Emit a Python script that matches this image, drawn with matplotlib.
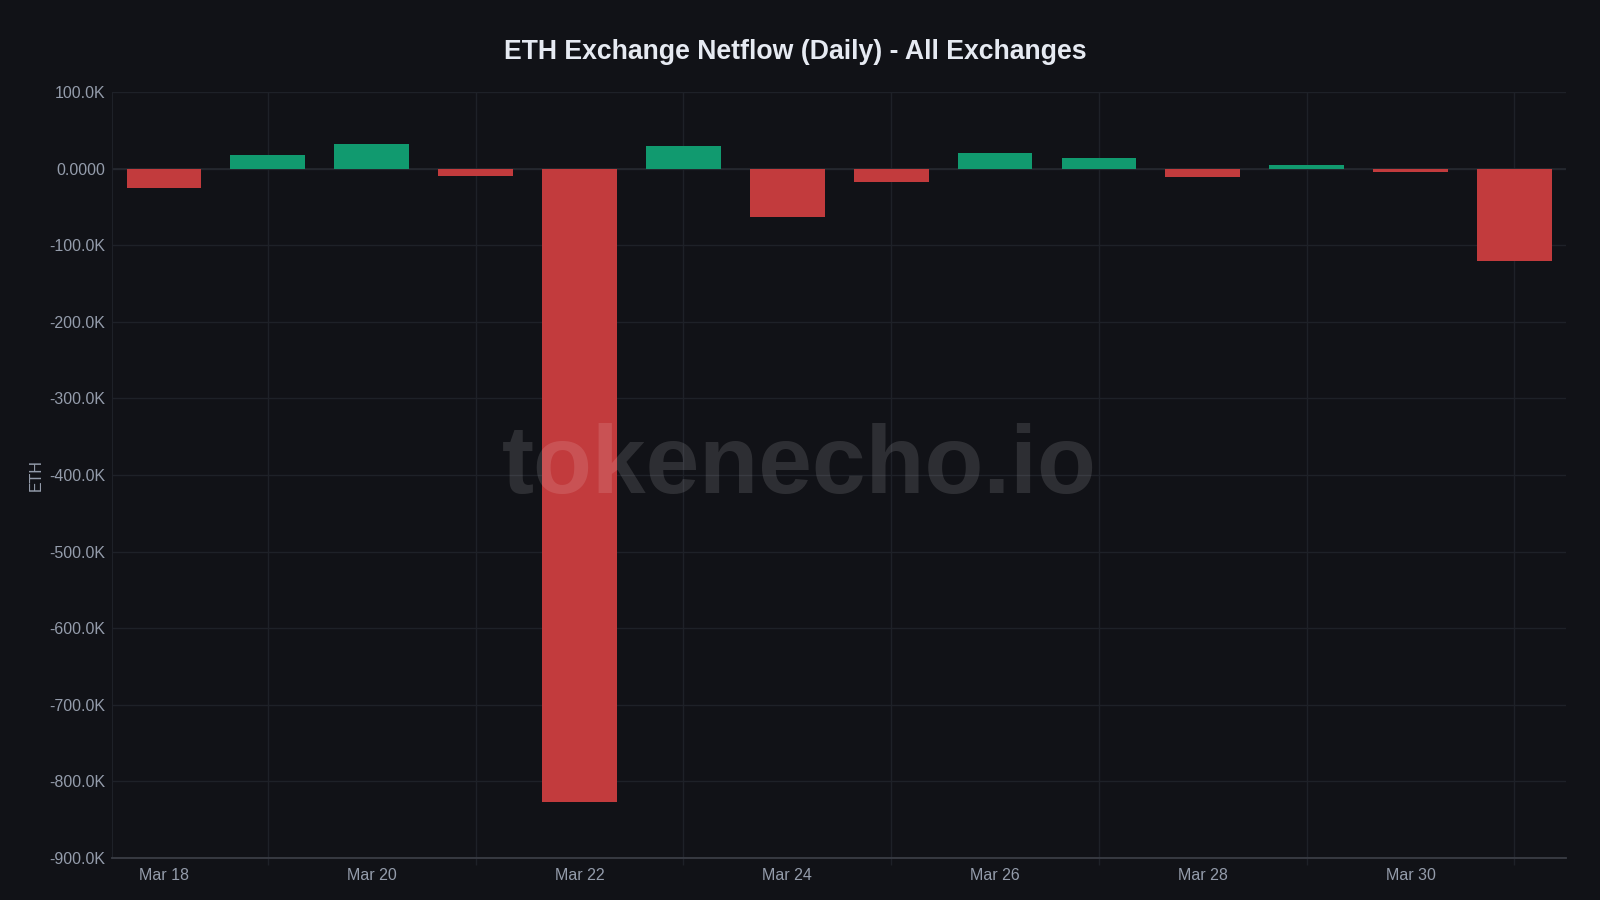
import numpy as np
import matplotlib
matplotlib.use('Agg')
import matplotlib.pyplot as plt
from matplotlib.ticker import FixedLocator, FuncFormatter

plt.rcParams['font.family'] = ['Liberation Sans', 'DejaVu Sans']

# data (ETH, daily netflow)
days = ['Mar 18', 'Mar 19', 'Mar 20', 'Mar 21', 'Mar 22', 'Mar 23', 'Mar 24',
        'Mar 25', 'Mar 26', 'Mar 27', 'Mar 28', 'Mar 29', 'Mar 30', 'Mar 31']
netflow = [-25500, 18000, 32500, -10000, -827500, 30000, -63000,
           -17000, 20500, 14500, -11000, 5000, -5000, -121000]
yticks = [100000, 0, -100000, -200000, -300000, -400000, -500000,
          -600000, -700000, -800000, -900000]

bg = '#111217'
grid_c = '#1e2128'
txt_c = '#949cab'
red = '#c23b3d'
green = '#119a6f'

fig = plt.figure(figsize=(16, 9), dpi=100, facecolor=bg)
ax = fig.add_axes([0.07, 0.0467, 0.909, 0.851])
ax.set_facecolor(bg)

x = np.arange(len(days))
cols = [green if v >= 0 else red for v in netflow]
ax.bar(x, netflow, width=0.72, color=cols, zorder=3)

ax.set_xlim(-0.5, len(days) - 0.5)
ax.set_ylim(-900000, 100000)

ax.yaxis.set_major_locator(FixedLocator(yticks))
def fmt(v, pos):
    if v == 0:
        return '0.0000'
    return f'{v/1000:.1f}K'
ax.yaxis.set_major_formatter(FuncFormatter(fmt))
ax.tick_params(axis='y', length=0, pad=5, labelsize=11.5, labelcolor=txt_c)

# gridlines at odd days, labels at even days
ax.set_xticks(x[1::2])
ax.set_xticklabels([])
ax.set_xticks(x[0::2], minor=True)
ax.set_xticklabels(days[0::2], minor=True)
ax.tick_params(axis='x', which='major', length=5, color=grid_c, width=1)
ax.tick_params(axis='x', which='minor', length=0, pad=7, labelsize=11.5, labelcolor=txt_c)

ax.grid(True, which='major', color=grid_c, linewidth=1, zorder=0)
ax.axhline(0, color='#262930', linewidth=1.2, zorder=2)

for s in ['top', 'right']:
    ax.spines[s].set_visible(False)
ax.spines['left'].set_color(grid_c)
ax.spines['bottom'].set_color('#3a3d45')
ax.spines['bottom'].set_linewidth(1.3)

ax.set_ylabel('ETH', color=txt_c, fontsize=11.5, labelpad=4)

fig.text(0.497, 1 - 52/900, 'ETH Exchange Netflow (Daily) - All Exchanges',
         ha='center', va='center', fontsize=19.2, fontweight='bold', color='#e6eaf2')

# watermark
fig.text(0.4995, 1 - 468/900, 'tokenecho.io', ha='center', va='center',
         fontsize=69.5, fontweight='bold', color='white', alpha=0.12, zorder=10)

fig.savefig('out.png', dpi=100, facecolor=bg)
